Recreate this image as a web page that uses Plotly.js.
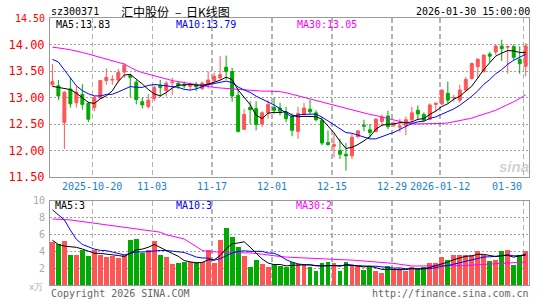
<!DOCTYPE html>
<html><head><meta charset="utf-8">
<script src="https://cdn.plot.ly/plotly-3.0.1.min.js"></script>
<style>html,body{margin:0;padding:0;background:#fff;}#chart{width:545px;height:300px;}</style>
</head><body><div id="chart"></div>
<script>
const dates = ["2025-10-09","2025-10-10","2025-10-13","2025-10-14","2025-10-15","2025-10-16","2025-10-17","2025-10-20","2025-10-21","2025-10-22","2025-10-23","2025-10-24","2025-10-27","2025-10-28","2025-10-29","2025-10-30","2025-10-31","2025-11-03","2025-11-04","2025-11-05","2025-11-06","2025-11-07","2025-11-10","2025-11-11","2025-11-12","2025-11-13","2025-11-14","2025-11-17","2025-11-18","2025-11-19","2025-11-20","2025-11-21","2025-11-24","2025-11-25","2025-11-26","2025-11-27","2025-11-28","2025-12-01","2025-12-02","2025-12-03","2025-12-04","2025-12-05","2025-12-08","2025-12-09","2025-12-10","2025-12-11","2025-12-12","2025-12-15","2025-12-16","2025-12-17","2025-12-18","2025-12-19","2025-12-22","2025-12-23","2025-12-24","2025-12-25","2025-12-26","2025-12-29","2025-12-30","2025-12-31","2026-01-05","2026-01-06","2026-01-07","2026-01-08","2026-01-09","2026-01-12","2026-01-13","2026-01-14","2026-01-15","2026-01-16","2026-01-19","2026-01-20","2026-01-21","2026-01-22","2026-01-23","2026-01-26","2026-01-27","2026-01-28","2026-01-29","2026-01-30"];
const open  = [13.24,13.22,12.53,13.16,12.90,13.06,12.89,12.81,12.99,13.32,13.33,13.33,13.48,13.42,13.29,12.92,12.83,12.98,13.23,13.13,13.28,13.27,13.25,13.21,13.25,13.17,13.24,13.32,13.37,13.57,13.49,13.04,12.40,12.81,12.79,12.50,12.71,12.81,12.80,12.72,12.64,12.36,12.68,12.78,12.71,12.57,12.15,12.08,12.00,11.93,11.90,12.26,12.48,12.39,12.36,12.55,12.65,12.48,12.44,12.47,12.58,12.76,12.68,12.59,12.87,12.88,13.08,12.99,12.95,13.14,13.36,13.58,13.49,13.82,13.86,13.97,13.95,13.96,13.72,13.59];
const high  = [13.63,13.33,13.12,13.38,13.21,13.25,12.92,13.03,13.33,13.55,13.42,13.54,13.65,13.45,13.33,13.00,13.07,13.23,13.33,13.31,13.37,13.30,13.30,13.28,13.29,13.30,13.49,13.47,13.78,13.79,13.56,13.14,12.78,12.93,12.93,12.74,12.95,13.00,12.90,12.82,12.70,12.82,12.90,12.96,12.76,12.62,12.38,12.32,12.22,12.14,12.31,12.39,12.58,12.50,12.61,12.68,12.75,12.55,12.60,12.64,12.82,12.85,12.72,12.89,12.91,13.16,13.30,13.05,13.24,13.39,13.66,13.74,13.81,13.86,14.00,14.09,13.98,14.00,13.97,14.02];
const low   = [13.22,12.95,12.03,12.81,12.81,12.77,12.54,12.74,12.97,13.24,13.24,13.28,13.37,13.01,12.87,12.79,12.79,12.93,13.01,13.02,13.05,13.16,13.17,13.14,13.12,13.14,13.17,13.27,13.33,13.33,12.92,12.34,12.39,12.50,12.38,12.44,12.60,12.69,12.66,12.53,12.27,12.22,12.66,12.69,12.55,12.10,12.09,11.87,11.84,11.62,11.84,12.24,12.36,12.24,12.34,12.45,12.40,12.44,12.35,12.29,12.52,12.58,12.55,12.57,12.73,12.86,12.89,12.92,12.90,13.12,13.34,13.37,13.47,13.66,13.80,13.69,13.45,13.70,13.45,13.40];
const close = [13.30,13.03,13.10,12.88,13.10,12.87,12.59,13.00,13.32,13.38,13.34,13.47,13.61,13.38,12.96,12.86,12.95,13.19,13.19,13.27,13.29,13.22,13.22,13.24,13.20,13.27,13.33,13.40,13.43,13.49,13.03,12.36,12.68,12.77,12.49,12.71,12.87,12.76,12.74,12.60,12.38,12.70,12.80,12.73,12.58,12.14,12.11,12.11,11.93,11.90,12.25,12.37,12.46,12.34,12.59,12.63,12.45,12.50,12.46,12.58,12.71,12.69,12.57,12.86,12.89,13.14,12.95,13.00,13.14,13.34,13.64,13.72,13.80,13.78,13.97,13.92,13.96,13.76,13.64,13.97];
const volume = [5.08,4.8,5.2,3.6,3.6,4.1,3.4,4.1,3.5,3.3,3.4,3.15,3.5,5.3,5.5,3.8,4.2,5.2,3.5,3.3,2.45,2.55,2.7,2.7,2.7,2.7,4.1,2.65,5.3,6.7,5.7,4.5,3.4,2.1,2.95,2.45,2.1,2.45,2.2,2.15,2.7,2.45,2.45,2.1,1.65,2.55,2.7,2.55,1.65,2.7,2.25,2.25,1.8,2.15,1.65,1.4,2.3,1.9,1.85,1.65,2.15,1.9,2.15,2.55,2.55,3.3,3.0,3.6,3.5,3.6,3.5,4.0,3.5,2.85,3.0,4.0,4.2,2.4,3.6,4.0];
// moving-average values before the window fills
const ma5Lead  = [13.21,13.19,13.18,13.15];
const ma10Lead = [13.72,13.67,13.52,13.36,13.22,13.13,13.07,13.03,13.03];
const ma30 = [13.95,13.94,13.92,13.90,13.88,13.85,13.82,13.79,13.76,13.72,13.70,13.67,13.63,13.57,13.51,13.47,13.44,13.40,13.37,13.34,13.32,13.30,13.28,13.26,13.24,13.22,13.20,13.19,13.18,13.17,13.16,13.15,13.14,13.13,13.12,13.12,13.12,13.12,13.11,13.09,13.06,13.03,13.01,12.98,12.95,12.92,12.89,12.86,12.82,12.79,12.76,12.73,12.70,12.68,12.66,12.63,12.60,12.57,12.55,12.52,12.50,12.50,12.50,12.50,12.50,12.51,12.52,12.54,12.56,12.58,12.61,12.65,12.68,12.72,12.76,12.81,12.86,12.92,12.98,13.05];
const vma5Lead  = [5.3,4.8,4.6,4.5];
const vma10Lead = [8.9,8.3,7.7,6.5,5.4,4.8,4.5,4.25,4.1];
const vma30 = [7.8,7.8,7.75,7.7,7.6,7.5,7.4,7.3,7.2,7.1,7.0,6.9,6.85,6.75,6.65,6.55,6.45,6.35,6.25,5.95,5.8,5.65,5.45,5.0,4.5,4.1,3.95,3.9,3.9,3.9,3.85,3.85,3.8,3.8,3.75,3.65,3.55,3.45,3.35,3.3,3.27,3.23,3.2,3.15,3.1,3.08,3.05,3.03,3.0,2.97,2.95,2.9,2.85,2.8,2.75,2.72,2.65,2.55,2.45,2.35,2.25,2.25,2.25,2.25,2.25,2.27,2.28,2.3,2.3,2.3,2.35,2.4,2.45,2.5,2.55,2.6,2.62,2.65,2.68,2.7];
const labelDates = ["2025-10-20","2025-11-03","2025-11-17","2025-12-01","2025-12-15","2025-12-29","2026-01-12","2026-01-30"];
const labelText  = ["2025-10-20","11-03","11-17","12-01","12-15","12-29","2026-01-12","01-30"];
const priceTicks = [11.5,12.0,12.5,13.0,13.5,14.0];
const volTicks = [2,4,6,8,10];

function rolling(arr, n, lead){
  return arr.map((v,i)=> i < n-1 ? lead[i] : arr.slice(i-n+1,i+1).reduce((a,b)=>a+b,0)/n);
}
const x = dates.map((d,i)=>i);
const ma5 = rolling(close,5,ma5Lead), ma10 = rolling(close,10,ma10Lead);
const vma5 = rolling(volume,5,vma5Lead), vma10 = rolling(volume,10,vma10Lead);

const RED='#ff5555', GREEN='#00aa00';
const gridIdx = labelDates.map(d=>dates.indexOf(d)-0.33);
const mono='DejaVu Sans Mono';

const traces = [
  {type:'candlestick', x:x, open:open, high:high, low:low, close:close, xaxis:'x', yaxis:'y',
   increasing:{line:{color:RED,width:1}, fillcolor:RED}, decreasing:{line:{color:GREEN,width:1}, fillcolor:GREEN},
   whiskerwidth:0, hoverinfo:'skip'},
  {type:'scatter', mode:'lines', x:x, y:ma30, line:{color:'#ff00ff',width:1}, xaxis:'x', yaxis:'y'},
  {type:'scatter', mode:'lines', x:x, y:ma10, line:{color:'#0000ff',width:1}, xaxis:'x', yaxis:'y'},
  {type:'scatter', mode:'lines', x:x, y:ma5, line:{color:'#000000',width:1}, xaxis:'x', yaxis:'y'},
  {type:'bar', x:x, y:volume, width:0.82, marker:{color:close.map((c,i)=>c>=open[i]?RED:GREEN), line:{width:0}}, xaxis:'x2', yaxis:'y2'},
  {type:'scatter', mode:'lines', x:x, y:vma30, line:{color:'#ff00ff',width:1}, xaxis:'x2', yaxis:'y2'},
  {type:'scatter', mode:'lines', x:x, y:vma10, line:{color:'#0000ff',width:1}, xaxis:'x2', yaxis:'y2'},
  {type:'scatter', mode:'lines', x:x, y:vma5, line:{color:'#000000',width:1}, xaxis:'x2', yaxis:'y2'}
];

const L=50, R=529, T=18, B=285;
function px(p){return (p-L)/(R-L);} function py(p){return (B-p)/(B-T);}
function ann(text,xp,yp,anchor,color,size,family){
  return {text:text, xref:'paper', yref:'paper', x:px(xp), y:py(yp), xanchor:anchor, yanchor:'middle',
    showarrow:false, font:{family:family||mono, size:size||10, color:color||'#000'}, borderpad:0};
}
const cjk='Noto Sans CJK SC';
const annotations = [
  ann('sz300371',50,12,'left','#000',10),
  ann('汇中股份',120,12,'left','#000',12,cjk),
  ann('–',178,12,'center','#000',12,cjk),
  ann('日K线图',185,12,'left','#000',12,cjk),
  ann('2026-01-30 15:00:00',531,12,'right','#000',10),
  ann('14.50',46,18,'right','#ff0000',10),
  ann('MA5:13.83',55,25,'left','#000',10),
  ann('MA10:13.79',175,25,'left','#0000ff',10),
  ann('MA30:13.05',296,25,'left','#ff00ff',10),
  ann('MA5:3',54,206,'left','#000',10),
  ann('MA10:3',175,206,'left','#0000ff',10),
  ann('MA30:2',295,206,'left','#ff00ff',10),
  ann('x万',44,287,'right','#b0b0b0',9),
  ann('Copyright 2026 SINA.COM',50,293,'left','#666',10),
  ann('http://finance.sina.com.cn',530,293,'right','#666',10),
  ann('<b><i>sina</i></b>',530,166,'right','rgba(190,190,190,0.7)',15,'Liberation Sans')
];
labelDates.forEach((d,k)=>{
  const last = k===labelDates.length-1;
  annotations.push({text:labelText[k], xref:'x', yref:'paper', x:gridIdx[k], y:py(186),
    xanchor:last?'right':'center', yanchor:'middle', showarrow:false, font:{family:mono,size:10,color:'#1a7fd0'}});
});

const axX = {range:[-0.4,79.55], tickmode:'array', tickvals:gridIdx, showticklabels:false, ticks:'',
  showgrid:true, gridcolor:'#b4b4b4', griddash:'5px,3px', gridwidth:1.5, zeroline:false,
  showline:true, linecolor:'#999', linewidth:1, mirror:true, fixedrange:true, rangeslider:{visible:false}};
const layout = {
  width:545, height:300, margin:{l:L, r:545-R, t:T, b:300-B, pad:0},
  paper_bgcolor:'#fff', plot_bgcolor:'#fff', showlegend:false, hovermode:false, bargap:0,
  xaxis: Object.assign({}, axX, {anchor:'y', domain:[0,1]}),
  xaxis2: Object.assign({}, axX, {anchor:'y2', domain:[0,1], matches:'x'}),
  yaxis: {domain:[(B-177)/(B-T),1], range:[11.5,14.5], tickmode:'array', tickvals:priceTicks,
    ticktext:priceTicks.map(v=>v.toFixed(2)), tickfont:{family:mono,size:12,color:'#ff0000'},
    showgrid:true, gridcolor:'#a0a0a0', griddash:'2px,2px', gridwidth:1, zeroline:false, ticks:'',
    showline:true, linecolor:'#999', mirror:true, fixedrange:true, ticklabelstandoff:2},
  yaxis2: {domain:[0,(B-200.5)/(B-T)], range:[0,10], tickmode:'array', tickvals:volTicks,
    ticktext:volTicks.map(String), tickfont:{family:mono,size:10,color:'#aaaaaa'},
    showgrid:true, gridcolor:'#a0a0a0', griddash:'2px,2px', gridwidth:1, zeroline:false, ticks:'',
    showline:true, linecolor:'#999', mirror:true, fixedrange:true, ticklabelstandoff:2},
  annotations: annotations
};
Plotly.newPlot('chart', traces, layout, {staticPlot:true, displayModeBar:false});
</script></body></html>
